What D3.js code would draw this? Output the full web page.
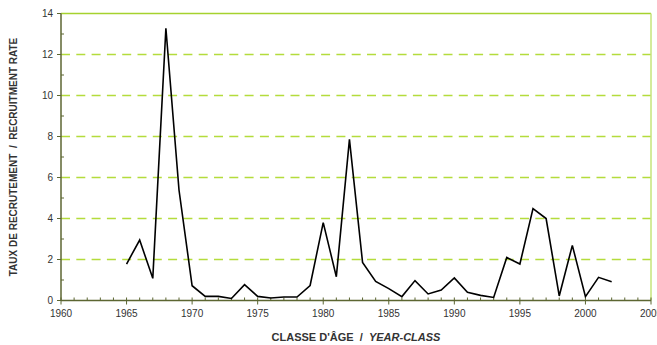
<!DOCTYPE html>
<html>
<head>
<meta charset="utf-8">
<script src="https://cdn.jsdelivr.net/npm/d3@7"></script>
<style>
  html, body { margin: 0; padding: 0; background: #fff; }
  svg { display: block; }
  text { font-family: "Liberation Sans Narrow", "Arial Narrow", "Liberation Sans", Arial, sans-serif; fill: #333; }
</style>
</head>
<body>
<svg id="chart" width="657" height="345"></svg>
<script>
// Recruitment rate by year-class
const years = [1965, 1966, 1967, 1968, 1969, 1970, 1971, 1972, 1973, 1974,
               1975, 1976, 1977, 1978, 1979, 1980, 1981, 1982, 1983, 1984,
               1985, 1986, 1987, 1988, 1989, 1990, 1991, 1992, 1993, 1994,
               1995, 1996, 1997, 1998, 1999, 2000, 2001, 2002];
const rates = [1.78, 2.95, 1.08, 13.28, 5.39, 0.72, 0.2, 0.2, 0.1, 0.77,
               0.2, 0.12, 0.17, 0.17, 0.73, 3.8, 1.16, 7.86, 1.86, 0.93,
               0.58, 0.19, 0.97, 0.32, 0.51, 1.1, 0.4, 0.25, 0.15, 2.1,
               1.78, 4.48, 4.0, 0.22, 2.69, 0.19, 1.13, 0.92];
const xTicks = [1960, 1965, 1970, 1975, 1980, 1985, 1990, 1995, 2000, 2005];
const yTicks = [0, 2, 4, 6, 8, 10, 12, 14];

const svg = d3.select("#chart");
const plotLeft = 61, plotRight = 651, plotTop = 13.5, plotBottom = 300.5;

const x = d3.scaleLinear().domain([1960, 2005]).range([plotLeft, plotRight]);
const y = d3.scaleLinear().domain([0, 14]).range([plotBottom, plotTop]);

// dashed horizontal gridlines
svg.append("g").selectAll("line")
  .data(yTicks.filter(v => v > 0 && v < 14))
  .join("line")
  .attr("x1", plotLeft).attr("x2", plotRight)
  .attr("y1", d => y(d)).attr("y2", d => y(d))
  .attr("stroke", "#b4dc3c")
  .attr("stroke-width", 1.3)
  .attr("stroke-dasharray", "9,6.3");

// top and right frame
svg.append("line")
  .attr("x1", plotLeft).attr("x2", plotRight)
  .attr("y1", y(14)).attr("y2", y(14))
  .attr("stroke", "#a6d22e").attr("stroke-width", 1.5);
svg.append("line")
  .attr("x1", plotRight).attr("x2", plotRight)
  .attr("y1", y(14)).attr("y2", y(0))
  .attr("stroke", "#c6e47a").attr("stroke-width", 1.5);

const axisColor = "#5c6632";

// y axis: major ticks outward, minor ticks inward
const yAxis = svg.append("g").attr("transform", `translate(${plotLeft},0)`);
yAxis.append("line").attr("x1", 0).attr("x2", 0).attr("y1", y(14)).attr("y2", y(0))
  .attr("stroke", axisColor).attr("stroke-width", 1.5);
yAxis.selectAll("line.maj").data(yTicks).join("line").attr("class", "maj")
  .attr("x1", -4).attr("x2", 0).attr("y1", d => y(d)).attr("y2", d => y(d))
  .attr("stroke", axisColor).attr("stroke-width", 1);
yAxis.selectAll("line.min").data(d3.range(1, 14, 2)).join("line").attr("class", "min")
  .attr("x1", 0).attr("x2", 3).attr("y1", d => y(d)).attr("y2", d => y(d))
  .attr("stroke", axisColor).attr("stroke-width", 1);
yAxis.selectAll("text").data(yTicks).join("text")
  .attr("x", -8).attr("y", d => y(d)).attr("dy", "0.35em")
  .attr("text-anchor", "end").attr("font-size", 10)
  .text(d => d);

// x axis: yearly ticks inward, five-year ticks crossing
const xAxis = svg.append("g").attr("transform", `translate(0,${plotBottom})`);
xAxis.append("line").attr("x1", plotLeft).attr("x2", plotRight).attr("y1", 0).attr("y2", 0)
  .attr("stroke", axisColor).attr("stroke-width", 1.5);
xAxis.selectAll("line.yr").data(d3.range(1960, 2006)).join("line").attr("class", "yr")
  .attr("x1", d => x(d)).attr("x2", d => x(d))
  .attr("y1", -3).attr("y2", d => d % 5 === 0 ? 4 : 0)
  .attr("stroke", axisColor).attr("stroke-width", 1);
xAxis.selectAll("text").data(xTicks).join("text")
  .attr("x", d => x(d)).attr("y", 16)
  .attr("text-anchor", "middle").attr("font-size", 10)
  .text(d => d);

// recruitment series
const line = d3.line().x((d, i) => x(years[i])).y(d => y(d));
svg.append("path")
  .datum(rates)
  .attr("d", line)
  .attr("fill", "none")
  .attr("stroke", "#000")
  .attr("stroke-width", 1.6)
  .attr("stroke-linejoin", "miter");

// axis titles
const xt = svg.append("text")
  .attr("x", 356).attr("y", 341)
  .attr("text-anchor", "middle")
  .attr("font-size", 11).attr("font-weight", "bold")
  .attr("fill", "#222");
xt.append("tspan").text("CLASSE D'ÂGE\u00a0\u00a0/\u00a0\u00a0");
xt.append("tspan").attr("font-style", "italic").text("YEAR-CLASS");

svg.append("text")
  .attr("transform", "translate(17,157) rotate(-90)")
  .attr("text-anchor", "middle")
  .attr("font-size", 10).attr("font-weight", "bold")
  .attr("fill", "#222")
  .text("TAUX DE RECRUTEMENT\u00a0\u00a0/\u00a0\u00a0RECRUITMENT RATE");
</script>
</body>
</html>
